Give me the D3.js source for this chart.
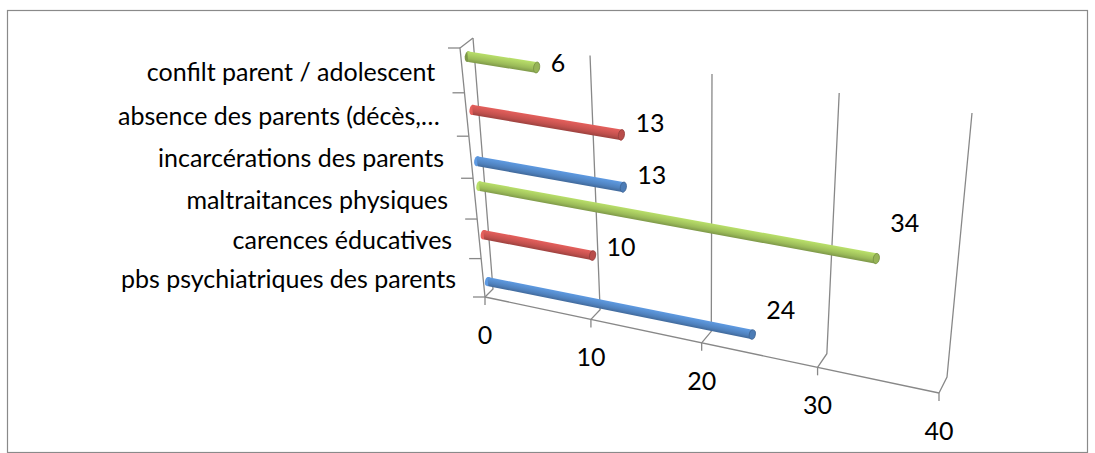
<!DOCTYPE html>
<html><head><meta charset="utf-8">
<script src="https://cdn.jsdelivr.net/npm/d3@7"></script>
<style>
body{margin:0;background:#fff}
svg{display:block}
text{font-family:Lato,"Noto Sans",sans-serif;fill:#000}
</style>
</head><body>
<svg id="chart" width="1095" height="453"></svg>
<script>
// ---- data ----
const categories = [
  "pbs psychiatriques des parents",
  "carences éducatives",
  "maltraitances physiques",
  "incarcérations des parents",
  "absence des parents (décès,…",
  "confilt parent / adolescent"
];
// three series, one value per category (clustered 3-D cylinders)
const series1 = [24, null, null, 13, null, null];
const series2 = [null, 10, null, null, 13, null];
const series3 = [null, null, 34, null, null, 6];
const valueTicks = [0, 10, 20, 30, 40];

// ---- style ----
const palette = ["#4F81BD", "#C0504D", "#9BBB59"];
const gridColor = "#888888";
const fontSize = 25;

const allSeries = [series1, series2, series3];
const svg = d3.select("#chart");

// outer border
svg.append("rect").attr("x", 7.5).attr("y", 10.5).attr("width", 1080).attr("height", 442)
  .attr("fill", "none").attr("stroke", "#8a8a8a").attr("stroke-width", 1.2);

// perspective: unit square -> quad homography
function squareToQuad(p0, p1, p2, p3) {
  const [x0,y0]=p0,[x1,y1]=p1,[x2,y2]=p2,[x3,y3]=p3;
  const dx1=x1-x2, dx2=x3-x2, dx3=x0-x1+x2-x3;
  const dy1=y1-y2, dy2=y3-y2, dy3=y0-y1+y2-y3;
  const den = dx1*dy2 - dy1*dx2;
  const g = (dx3*dy2 - dy3*dx2)/den;
  const h = (dx1*dy3 - dy1*dx3)/den;
  const a = x1-x0+g*x1, b = x3-x0+h*x3, c = x0;
  const d = y1-y0+g*y1, e = y3-y0+h*y3, f = y0;
  return (u, w) => {
    const z = g*u + h*w + 1;
    return [(a*u + b*w + c)/z, (d*u + e*w + f)/z];
  };
}
// plot box: back wall and front plane (bottom-left, bottom-right, top-right, top-left)
const backQ  = squareToQuad([493,289],[947,377],[972,113],[473,38]);
const frontQ = squareToQuad([485,297],[939,393],[960,128],[460,48]);

const xS = d3.scaleLinear().domain([0, 40]).range([0, 1]);
const band = d3.scaleBand().domain(categories).range([0, 1]).paddingInner(0).paddingOuter(0);
const bw = band.bandwidth();
const sub = d3.scaleBand().domain([0, 1, 2]).range([0.2*bw, 0.8*bw]);
const color = d3.scaleOrdinal().domain([0, 1, 2]).range(palette);

function P(v, w, depth) {
  const b = backQ(xS(v), w), f = frontQ(xS(v), w);
  return [b[0] + (f[0]-b[0])*depth, b[1] + (f[1]-b[1])*depth];
}
const line = d3.line();

const grid = svg.append("g").attr("fill", "none").attr("stroke", gridColor).attr("stroke-width", 1.3);

// back wall gridlines + floor depth connectors + ticks
valueTicks.forEach(t => {
  grid.append("path").attr("d", line([P(t,1,0), P(t,0,0), P(t,0,1)]));
  const f = P(t,0,1);
  grid.append("path").attr("d", line([f, [f[0], f[1]+8]]));
});
// floor front edge
grid.append("path").attr("d", line([P(0,0,1), P(40,0,1)]));
// left wall front edge and top
grid.append("path").attr("d", line([P(0,0,1), P(0,1,1), P(0,1,0)]));
// category ticks on left wall front edge
d3.range(categories.length + 1).forEach(i => {
  const p = P(0, band.step()*i, 1);
  grid.append("path").attr("d", line([p, [p[0]-12, p[1]]]));
});

// bars (cylinders)
const defs = svg.append("defs");
const D = 0.5, R = 0.02;
const barsG = svg.append("g");
let gi = 0;
allSeries.forEach((vals, s) => {
  vals.forEach((v, i) => {
    if (v == null) return;
    const cat = categories[i];
    const wc = band(cat) + sub(s) + sub.bandwidth()/2;
    const base = d3.color(color(s));
    const s0 = P(0, wc+R, D), s1 = P(v, wc+R, D), e1 = P(v, wc-R, D), e0 = P(0, wc-R, D);
    const cs = P(0, wc, D), ce = P(v, wc, D);
    const angR = Math.atan2(ce[1]-cs[1], ce[0]-cs[0]);
    const ang = angR * 180/Math.PI;
    const hs = Math.hypot(s0[0]-e0[0], s0[1]-e0[1])/2;
    const he = Math.hypot(s1[0]-e1[0], s1[1]-e1[1])/2;
    const hm = (hs + he)/2;
    const mid = [(cs[0]+ce[0])/2, (cs[1]+ce[1])/2];
    const nx = Math.sin(angR), ny = -Math.cos(angR);
    const gid = "g" + (gi++);
    const lg = defs.append("linearGradient").attr("id", gid).attr("gradientUnits", "userSpaceOnUse")
      .attr("x1", mid[0] + nx*hm).attr("y1", mid[1] + ny*hm)
      .attr("x2", mid[0] - nx*hm).attr("y2", mid[1] - ny*hm);
    lg.append("stop").attr("offset", 0).attr("stop-color", base.brighter(0.5));
    lg.append("stop").attr("offset", 0.3).attr("stop-color", base.brighter(0.3));
    lg.append("stop").attr("offset", 0.65).attr("stop-color", base);
    lg.append("stop").attr("offset", 1).attr("stop-color", base.darker(0.6));
    barsG.append("ellipse").attr("cx", 0).attr("cy", 0).attr("rx", 3).attr("ry", hs)
      .attr("transform", `translate(${cs}) rotate(${ang})`).attr("fill", `url(#${gid})`);
    barsG.append("path").attr("d", line([s0, s1, e1, e0]) + "Z").attr("fill", `url(#${gid})`);
    barsG.append("ellipse").attr("cx", 0).attr("cy", 0).attr("rx", 3).attr("ry", he)
      .attr("transform", `translate(${ce}) rotate(${ang})`)
      .attr("fill", base.darker(0.1)).attr("stroke", base.darker(0.7)).attr("stroke-width", 0.8);
    // data label
    svg.append("text").attr("x", ce[0] + 14).attr("y", ce[1] + 1.6 - 1.11*v)
      .attr("dominant-baseline", "central").attr("font-size", fontSize).text(v);
  });
});

// category labels
categories.forEach(cat => {
  const p = P(0, band(cat) + bw/2, 1);
  svg.append("text").attr("x", p[0] - 27).attr("y", p[1])
    .attr("text-anchor", "end").attr("dominant-baseline", "central")
    .attr("font-size", fontSize).text(cat);
});

// value axis labels
valueTicks.forEach(t => {
  const p = P(t, 0, 1);
  svg.append("text").attr("x", p[0]).attr("y", p[1] + 37)
    .attr("text-anchor", "middle").attr("dominant-baseline", "central")
    .attr("font-size", fontSize).text(t);
});
</script>
</body></html>
